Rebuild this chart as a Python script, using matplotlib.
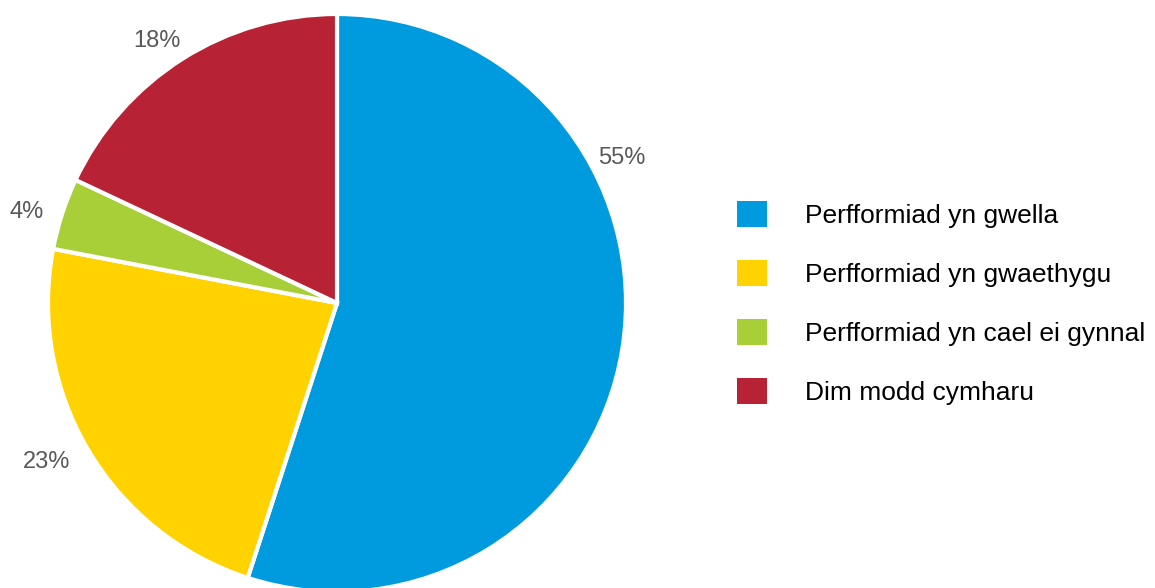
import matplotlib
matplotlib.use("Agg")
import matplotlib.pyplot as plt
from matplotlib.patches import Patch
import numpy as np

categories = ["Perfformiad yn gwella", "Perfformiad yn gwaethygu",
              "Perfformiad yn cael ei gynnal", "Dim modd cymharu"]
values = [55, 23, 4, 18]
labels = ["55%", "23%", "4%", "18%"]
colors = ["#009BDE", "#FFD200", "#A8CE38", "#B82235"]

# label placement (angle in degrees, counter-clockwise from +x; distance in radii)
label_angles = [27, 208.7, 163.6, 124.4]
label_dist = [1.107, 1.145, 1.118, 1.10]

plt.rcParams['font.family'] = ['Liberation Sans', 'DejaVu Sans']

W, H = 1155, 588
fig = plt.figure(figsize=(W / 100, H / 100), dpi=100)
ax = fig.add_axes([0, 0, 1, 1])
ax.axis('off')

cx, cy, R = 337, 588 - 303, 289
wedges, _ = ax.pie(values, colors=colors, startangle=90, counterclock=False,
                   center=(cx, cy), radius=R,
                   wedgeprops=dict(edgecolor='white', linewidth=3))
ax.set_xlim(0, W)
ax.set_ylim(0, H)
ax.set_aspect('equal')

for lab, ang, d in zip(labels, label_angles, label_dist):
    a = np.deg2rad(ang)
    ax.text(cx + d * R * np.cos(a), cy + d * R * np.sin(a), lab,
            ha='center', va='center', fontsize=17, color='#595959')

handles = [Patch(facecolor=c, edgecolor='none') for c in colors]
leg = ax.legend(handles, categories, loc='center left',
                bbox_to_anchor=(737 / W, 1 - 303 / H),
                frameon=False, fontsize=19, handlelength=1.14,
                handleheight=1.14, handletextpad=1.45, labelspacing=1.22,
                borderaxespad=0, borderpad=0)

fig.savefig("out.png", dpi=100)
